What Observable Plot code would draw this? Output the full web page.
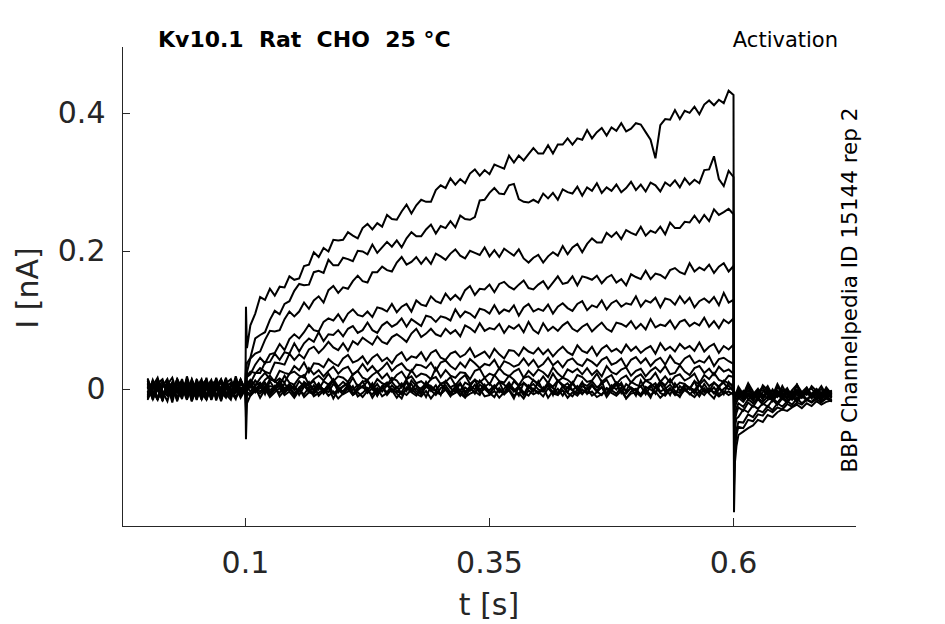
<!DOCTYPE html>
<html><head><meta charset="utf-8">
<script src="https://cdn.jsdelivr.net/npm/d3@7"></script>
<script src="https://cdn.jsdelivr.net/npm/@observablehq/plot@0.6"></script>
<style>body{margin:0;background:#fff} #chart{width:945px;height:624px}</style>
</head><body><div id="chart"></div>
<script>
// ---- axes ----
const xTicks = [0.1, 0.35, 0.6];
const yTicks = [0, 0.2, 0.4];
const xDomain = [-0.026, 0.726];
const yDomain = [-0.1986, 0.4957];
const titleText = "Kv10.1  Rat  CHO  25 °C";
const protocolText = "Activation";
const sourceText = "BBP Channelpedia ID 15144 rep 2";
const xLabel = "t [s]";
const yLabel = "I [nA]";

// sample times (s): pre-pulse, onset, pulse, offset, tail
const times = [
  ...d3.range(20).map(i => +(i * 0.005).toFixed(4)),
  0.1, 0.1005, 0.1015,
  ...d3.range(100).map(i => +(0.105 + i * 0.005).toFixed(4)),
  0.6005, 0.6015, 0.603,
  ...d3.range(20).map(i => +(0.605 + i * 0.005).toFixed(4))
];

// ---- current traces in pA ----
const tr1 = [
  7,-10,15,-3,-17,9,2,-14,19,-5, 10,-15,3,14,-9,-2,17,-12,5,-7,
  2,120,60,
  93,110,134,130,146,136,149,148,164,159,
  161,179,181,199,192,205,200,217,216,217,
  228,223,219,234,240,232,241,236,253,247,
  246,258,268,255,267,275,272,272,289,296,
  292,306,297,305,299,313,319,310,318,312,
  326,323,320,339,329,339,332,341,350,342,
  342,354,342,355,355,364,355,364,362,376,
  364,373,379,368,380,375,386,374,378,386,
  384,373,362,335,383,392,391,405,392,404,
  401,410,399,413,419,412,420,415,433,427,
  -178,-105,-82,
  -66,-61,-56,-52,-44,-47,-37,-40,-33,-29, -31,-26,-22,-27,-20,-24,-17,-22,-18,-16
];
const tr2 = [
  -5,12,-14,3,9,-19,10,-2,15,-10, 5,-7,17,-15,2,10,-12,7,-3,14,
  -2,30,38,
  46,74,79,83,101,114,109,124,128,143,
  153,151,152,170,172,169,188,180,180,191,
  189,186,201,200,196,210,198,206,214,207,
  216,206,219,228,222,222,232,239,226,237,
  234,244,235,252,247,246,250,274,275,285,
  292,284,283,296,298,276,272,271,275,271,
  284,277,285,275,290,286,284,294,281,293,
  288,299,285,293,288,297,286,292,301,289,
  297,287,300,296,287,300,295,303,293,306,
  297,304,299,318,319,338,305,295,317,308,
  -140,-88,-66,
  -54,-56,-44,-46,-36,-38,-29,-33,-26,-29, -21,-25,-19,-22,-15,-19,-14,-19,-13,-17
];
const tr3 = [
  12,-3,-15,7,2,-10,14,-5,9,-17, 3,15,-9,-2,10,-14,5,-7,19,-3,
  1,-20,25,
  45,52,55,72,85,84,86,102,113,106,
  113,126,117,129,135,126,144,150,140,148,
  146,157,165,157,155,170,170,178,173,171,
  184,192,181,185,192,182,191,182,197,193,
  188,197,203,194,190,201,198,195,206,193,
  202,192,204,199,194,203,190,184,191,195,
  184,193,199,194,208,196,206,211,199,211,
  219,213,213,227,221,228,218,231,227,224,
  236,223,230,227,236,225,242,234,234,243,
  242,252,242,253,244,261,253,257,262,254,
  -120,-75,-58,
  -47,-48,-36,-40,-30,-33,-24,-30,-20,-25, -17,-22,-13,-20,-14,-18,-10,-17,-11,-15
];
const tr4 = [
  -9,14,-2,-12,7,17,-5,3,-15,10, -7,2,12,-10,5,-17,9,15,-3,0,
  -3,15,18,
  22,36,46,38,51,53,66,57,73,80,
  74,83,94,86,84,98,103,100,109,98,
  110,116,108,106,113,105,119,117,113,124,
  112,120,124,113,129,123,121,135,128,125,
  139,130,137,130,144,150,137,146,145,152,
  141,153,156,149,145,152,158,147,145,152,
  157,146,155,164,153,155,164,151,164,162,
  159,165,154,162,166,155,160,151,167,163,
  160,172,160,168,166,161,173,176,170,167,
  183,171,177,173,181,169,178,183,171,179,
  -90,-55,-42,
  -40,-29,-33,-23,-28,-20,-25,-15,-22,-13, -19,-11,-18,-9,-16,-8,-14,-6,-13,-7
];
const tr5 = [
  3,-14,9,15,-7,0,-12,10,-2,5, -15,7,14,-5,-10,3,12,-9,2,-3,
  4,40,20,
  26,24,24,39,40,52,43,54,52,67,
  55,67,74,69,83,70,80,79,86,77,
  88,92,82,86,97,86,82,93,98,91,
  95,103,91,102,97,92,107,105,98,106,
  104,100,116,105,113,110,104,117,115,110,
  122,110,116,113,122,107,119,124,113,117,
  114,123,110,120,125,118,114,124,128,115,
  122,119,129,116,125,129,120,125,123,135,
  120,129,126,133,119,132,130,123,135,125,
  133,119,128,132,126,134,122,140,126,130,
  -70,-44,-34,
  -26,-31,-19,-25,-14,-22,-15,-12,-19,-10, -17,-9,-15,-6,-14,-8,-5,-13,-6,-12
];
const tr6 = [
  15,-7,2,-14,10,5,-17,9,-3,12, 0,-10,7,-15,14,-5,3,10,-12,-2,
  2,-30,10,
  9,23,31,26,23,39,38,36,52,43,
  51,45,58,62,53,60,69,61,57,67,
  56,70,65,75,70,65,77,69,66,76,
  80,75,69,81,88,76,81,88,80,77,
  88,81,86,77,93,89,83,96,85,89,
  87,95,82,92,88,94,83,98,86,81,
  96,85,91,85,93,98,88,84,91,95,
  84,91,97,88,84,97,95,91,99,88,
  95,87,102,90,94,92,100,88,98,101,
  92,97,93,104,91,99,89,101,96,103,
  -55,-35,-27,
  -20,-25,-14,-20,-12,-18,-10,-16,-7,-14, -6,-13,-5,-12,-4,-12,-3,-11,-5,-9
];
const tr7 = [
  -12,5,17,-7,-2,10,-14,3,9,-9, 15,-3,-10,2,12,-15,7,0,-5,14,
  -1,25,8,
  14,6,16,24,15,13,27,24,22,34,
  28,39,25,38,37,32,44,38,34,45,
  50,39,42,48,37,46,51,41,46,38,
  49,54,42,48,46,54,42,53,57,46,
  43,52,55,47,51,60,47,51,55,46,
  59,51,45,57,56,49,61,55,52,60,
  51,58,48,56,62,54,50,64,56,53,
  62,49,59,64,55,59,53,65,56,62,
  53,59,63,52,67,57,62,55,66,59,
  63,56,68,55,62,66,53,63,58,65,
  -40,-25,-19,
  -12,-18,-8,-16,-6,-14,-4,-13,-3,-12, -2,-11,-3,-10,-1,-11,-2,-9,0,-10
];
const tr8 = [
  9,-15,3,12,-5,-10,15,2,-7,7, -14,10,0,-9,17,-3,-12,5,14,-7,
  0,-15,5,
  3,13,4,14,20,11,16,10,23,26,
  20,17,31,22,28,19,27,33,23,30,
  33,21,27,37,27,34,25,31,39,27,
  34,38,29,26,36,35,31,39,27,39,
  42,34,29,39,32,44,38,31,37,35,
  43,30,41,38,33,36,45,35,43,32,
  37,46,35,41,32,42,45,37,34,44,
  40,34,43,47,36,39,45,32,43,47,
  38,45,34,42,46,36,49,39,36,45,
  49,38,42,39,48,34,44,46,41,37,
  -30,-18,-14,
  -9,-15,-6,-13,-4,-12,-3,-11,-2,-10, -4,-9,-1,-10,-2,-8,-3,-9,0,-8
];
const tr9 = [
  -3,10,-14,5,15,-9,2,-2,12,-17, 7,-5,9,-10,3,14,-7,-15,10,2,
  3,18,6,
  9,1,7,1,15,12,6,20,10,7,
  17,21,7,15,20,13,23,12,19,17,
  11,22,27,17,14,21,26,16,23,12,
  21,26,15,28,18,23,21,15,31,18,
  28,20,17,25,24,15,27,30,17,23,
  20,31,23,19,26,30,17,27,20,29,
  25,18,32,23,17,29,25,30,22,31,
  21,28,19,34,25,22,29,32,20,27,
  30,19,27,32,25,34,22,24,35,26,
  21,31,34,24,30,21,33,26,29,23,
  -22,-14,-10,
  -8,-12,-5,-10,-3,-9,-4,-8,-2,-9, -3,-7,-1,-8,-4,-6,-2,-8,-3,-5
];
const tr10 = [
  14,-5,-12,7,0,10,-15,3,-9,15, -2,5,-14,9,12,-7,2,-10,7,-3,
  -2,-40,4,
  -3,6,10,-2,5,3,13,1,8,-1,
  12,4,7,12,0,12,7,15,4,11,
  5,17,4,11,13,3,15,9,6,17,
  13,3,15,19,9,12,6,15,18,8,
  11,18,6,15,21,8,14,10,17,7,
  21,12,10,20,14,6,17,19,13,9,
  19,9,23,12,17,14,8,21,18,11,
  13,23,11,17,21,8,16,20,10,18,
  22,13,15,24,11,19,10,19,22,13,
  17,23,9,21,15,24,14,11,20,18,
  -16,-10,-7,
  -5,-9,-2,-7,-4,-1,-8,-3,-6,0, -5,-8,-2,-6,-3,-7,1,-5,-4,-2
];
const tr11 = [
  -7,12,2,-15,9,-3,14,-10,5,0, -12,10,3,-5,15,-14,7,-2,10,-9,
  1,10,2,
  8,-2,6,10,-1,4,9,-4,7,2,
  -3,11,5,0,9,-2,6,12,1,4,
  10,-1,7,3,12,0,8,-3,6,11,
  2,9,-2,13,5,1,10,4,-1,8,
  12,3,7,-2,10,6,0,13,4,9,
  1,11,7,-1,12,5,9,2,14,6,
  0,10,4,13,7,2,11,-1,9,5,
  12,3,8,14,1,10,6,-2,11,7,
  4,13,9,2,12,6,15,3,10,8,
  1,12,7,14,5,10,3,13,9,6,
  -12,-8,-6,
  -3,-12,4,-9,-1,-14,2,-6,-11,5, -8,-2,-13,-4,3,-10,-6,1,-12,-3
];
const tr12 = [
  5,-10,14,-2,-9,7,0,12,-14,3, 9,-5,-15,10,2,-3,15,-9,5,-12,
  0,-10,-2,
  5,-3,2,8,-4,1,7,-2,4,-6,
  3,9,-1,-5,6,0,-4,8,2,-3,
  7,-6,1,4,-2,9,-5,3,6,-1,
  -4,5,10,-3,2,-7,6,1,-2,8,
  0,-5,4,9,-3,3,-6,7,2,-1,
  6,-4,1,10,-2,5,-7,3,8,0,
  -3,7,2,-5,4,9,-1,-6,5,1,
  8,-2,3,-6,6,0,10,-4,2,-1,
  5,-7,4,9,-3,1,7,-2,-5,6,
  3,-1,8,-4,2,-6,5,10,0,3,
  -10,-6,-4,
  0,-9,6,-12,-4,3,-8,-15,4,-6, -11,-1,7,-9,-2,-13,-5,5,-8,-4
];
const tr13 = [
  -14,3,9,-7,2,-15,10,5,-3,14, -10,0,7,-12,3,15,-5,-9,12,-2,
  -3,5,-4,
  -6,1,-3,4,-8,0,5,-5,2,-9,
  -1,6,-4,-7,3,-2,7,-6,0,-3,
  4,-8,-1,5,-5,2,-9,3,-4,6,
  -2,-7,1,8,-3,-6,4,-1,-8,2,
  6,-4,0,-9,3,-2,7,-5,1,-6,
  4,-1,-7,5,-3,2,-8,6,0,-4,
  -2,7,-6,1,-9,3,-1,5,-5,0,
  6,-3,-8,2,-1,7,-4,-6,3,-2,
  -7,4,0,-5,8,-3,1,-8,5,-1,
  2,-6,7,-2,-4,3,-7,1,6,-3,
  -8,-6,-5,
  -2,-11,3,-7,-14,-4,5,-9,-6,-13, 0,-8,6,-11,-3,2,-10,-15,-1,-6
];
const tr14 = [
  2,-12,7,-17,10,-5,-2,15,-10,3, -7,12,-15,5,0,-9,14,-3,-14,9,
  -2,-72,-20,
  -9,-2,-6,1,-11,-4,2,-8,-3,-12,
  -1,-7,3,-10,-5,0,-9,-3,-13,-6,
  1,-8,-4,-11,-2,-7,2,-10,-5,-1,
  -12,-3,-8,0,-6,-10,-2,-13,-4,-7,
  2,-9,-5,-1,-11,-6,-3,1,-10,-8,
  -2,-12,-4,0,-9,-5,-13,-1,-7,-3,
  -10,2,-6,-8,-1,-12,-4,-9,0,-6,
  -3,-11,-7,1,-5,-9,-2,-13,-6,-4,
  -10,0,-8,-3,-12,-5,2,-7,-9,-1,
  -6,-11,-2,-8,1,-4,-10,-5,-3,-7,
  -6,-5,-5,
  -10,-2,-14,-7,1,-12,-4,-17,-8,-1, -6,-15,-3,-10,2,-7,-13,-4,-9,-16
];
const tr15 = [
  11,-8,4,-16,13,-2,8,-12,16,-5, 2,-14,9,6,-10,14,-4,-11,7,12,
  0,15,5,
  10,-4,7,-7,12,1,-5,9,-2,6,
  -8,4,11,-3,8,-6,2,13,-4,5,
  9,-7,3,12,-1,7,-9,5,10,-3,
  4,-6,13,0,8,-5,11,-2,6,-8,
  12,2,-4,9,-7,5,14,-1,7,-6,
  3,11,-5,8,1,-9,10,4,-3,12,
  -2,7,-8,13,5,-4,9,0,11,-6,
  6,-3,12,-7,4,10,-5,8,2,-9,
  13,-1,6,-6,11,3,-8,9,-2,7,
  0,12,-5,8,-3,10,4,-7,11,2,
  -9,-6,-4,
  4,-7,9,-3,-11,6,-1,-9,8,-5, 2,-12,7,-4,-8,5,-2,-10,3,-6
];
const tr16 = [
  -10,6,-15,9,1,-12,16,-6,3,-9, 13,-3,-7,11,-16,4,10,-8,-1,15,
  -1,-25,-6,
  -9,3,-12,0,-6,5,-10,-1,4,-8,
  2,-11,-4,6,-9,-2,3,-13,0,-7,
  -3,5,-10,-5,2,-12,-1,4,-8,1,
  -6,-13,3,-4,-9,2,-11,5,-2,-7,
  0,-10,4,-6,-12,1,-3,-8,6,-5,
  -11,2,-7,-1,-13,4,-4,-9,1,-6,
  3,-12,-2,-8,5,-5,-10,0,-7,2,
  -9,-4,4,-11,-1,-6,3,-13,-3,1,
  -8,-2,-12,5,-5,-9,0,-4,-11,3,
  -7,-1,-10,2,-6,-13,1,-3,-8,-4,
  -10,-7,-6,
  -12,-4,-9,-16,-2,-7,-13,0,-10,-5, -14,-3,-8,-11,1,-9,-6,-15,-4,-10
];

const traces = [tr16, tr15, tr14, tr13, tr12, tr11, tr10, tr9, tr8, tr7, tr6, tr5, tr4, tr3, tr2, tr1];
const rows = traces.flatMap((v, k) =>
  v.slice(0, times.length).map((pA, j) => ({trace: k, t: times[j], i: pA / 1000})));

const plot = Plot.plot({
  width: 945, height: 624,
  marginLeft: 122, marginRight: 89, marginTop: 47, marginBottom: 98,
  style: {fontFamily: "DejaVu Sans", color: "#262626", background: "#fff", overflow: "visible"},
  x: {domain: xDomain},
  y: {domain: yDomain},
  marks: [
    Plot.line(rows, {x: "t", y: "i", z: "trace", stroke: "#000", strokeWidth: 2, strokeLinejoin: "miter", strokeMiterlimit: 3}),
    Plot.ruleX([xDomain[0]], {stroke: "#262626", strokeWidth: 1}),
    Plot.ruleY([yDomain[0]], {stroke: "#262626", strokeWidth: 1}),
    Plot.axisX({ticks: xTicks, anchor: "bottom", tickSize: -8, tickPadding: 33, fontSize: 30,
      tickFormat: d => String(d), label: null}),
    Plot.axisY({ticks: yTicks, anchor: "left", tickSize: -8, tickPadding: 25, fontSize: 30,
      tickFormat: d => String(d), label: null})
  ]
});
document.getElementById("chart").append(plot);

const svg = d3.select(plot);
svg.append("text").attr("x", 158).attr("y", 47).attr("text-anchor", "start")
  .style("white-space", "pre").attr("font-family", "DejaVu Sans").attr("font-weight", "bold")
  .attr("font-size", 22).attr("fill", "#000").text(titleText);
svg.append("text").attr("x", 838).attr("y", 47).attr("text-anchor", "end")
  .attr("font-family", "DejaVu Sans").attr("font-size", 21).attr("fill", "#000").text(protocolText);
svg.append("text").attr("transform", "translate(857,290) rotate(-90)").attr("text-anchor", "middle")
  .attr("font-family", "DejaVu Sans").attr("font-size", 21.5).attr("fill", "#000").text(sourceText);
svg.append("text").attr("transform", "translate(38,288) rotate(-90)").attr("text-anchor", "middle")
  .attr("font-family", "DejaVu Sans").attr("font-size", 30).attr("fill", "#262626").text(yLabel);
svg.append("text").attr("x", 489).attr("y", 615).attr("text-anchor", "middle")
  .attr("font-family", "DejaVu Sans").attr("font-size", 30).attr("fill", "#262626").text(xLabel);
</script>
</body></html>
